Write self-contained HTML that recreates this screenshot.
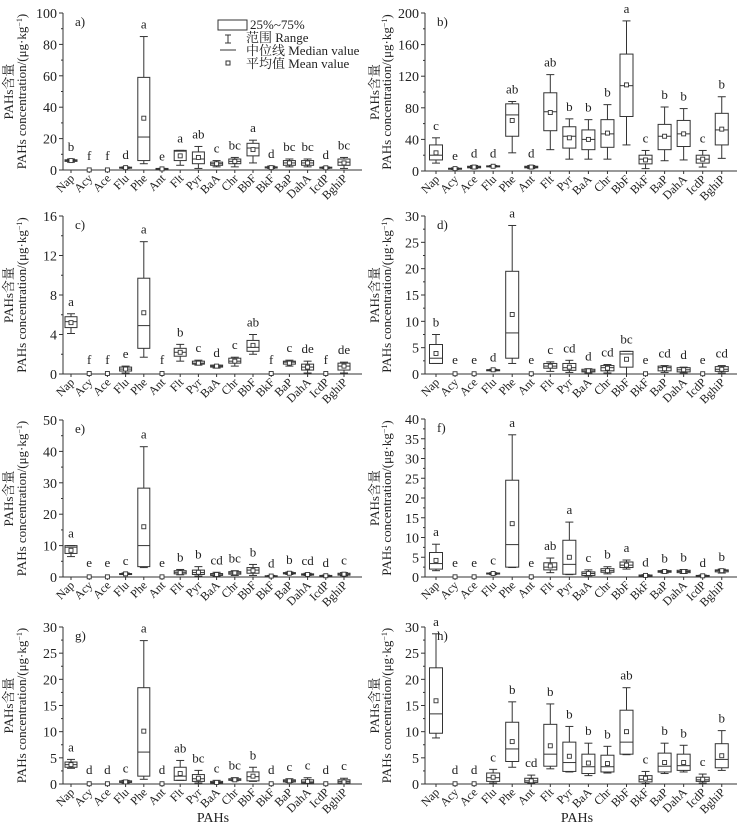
<!DOCTYPE html>
<html><head><meta charset="utf-8"><style>
body{margin:0;background:#fff}
svg{display:block}
text{font-family:"Liberation Serif","Noto Serif CJK SC",serif;fill:#222}
</style></head><body>
<svg id="s" width="748" height="833" viewBox="0 0 748 833" xmlns="http://www.w3.org/2000/svg"></svg>
<script>
const names=["Nap","Acy","Ace","Flu","Phe","Ant","Flt","Pyr","BaA","Chr","BbF","BkF","BaP","DahA","IcdP","BghiP"];
const Z=l=>[0,0,0,0,0,0.05,l];
const P=[
{lab:"a)",ax:63,right:362,x0:71,dx:18.2,top:13,bot:170,max:100,step:20,d:[
[5,5.5,6,6.5,7,6,'b'],Z('f'),Z('f'),[1,1.2,1.5,1.8,2,1.5,'d'],[4,6,21,59,85,33,'a'],[0.3,0.5,0.8,1,1,0.7,'e'],[3,6,12,12.5,12.5,9,'a'],[1,4,7,11.5,15,8,'ab'],[2,3,4,5,6,4,'c'],[2,4,5.5,7,8,5.5,'bc'],[4.5,9,14,17,19,13,'a'],[1,1.3,1.5,2,2.5,1.5,'d'],[2,3,4.5,6,7,4.5,'bc'],[2,3,4.5,6,7,4.5,'bc'],[1,1.2,1.5,1.8,2,1.4,'d'],[1,3,5,7,8,4.5,'bc']]},
{lab:"b)",ax:425,right:737,x0:436,dx:19.05,top:13,bot:171,max:200,step:40,d:[
[10,14,20,33,42,23,'c'],[2,2.5,3,3.5,4,3,'e'],[3,4,5,6,7,5,'d'],[5,5.5,6,6.5,7,6,'d'],[23,44,71,85,88,64,'ab'],[3,4,5,6,7,5,'d'],[27,51,75,99,122,74,'ab'],[15,29,44,56,66,42,'b'],[15,27,40,52,65,40,'b'],[15,30,47,65,84,48,'b'],[33,69,108,148,190,109,'a'],[3,9,15,20,26,14,'c'],[13,27,44,59,81,44,'b'],[14,31,47,64,79,47,'b'],[5,10,15,20,26,15,'c'],[16,33,52,73,94,53,'b']]},
{lab:"c)",ax:63,right:362,x0:71,dx:18.2,top:216,bot:374,max:16,step:4,d:[
[4.1,4.7,5.3,5.8,6.1,5.2,'a'],Z('f'),Z('f'),[0.1,0.3,0.5,0.7,0.8,0.5,'e'],[1.7,2.6,4.9,9.7,13.4,6.2,'a'],Z('f'),[1.3,1.8,2.2,2.6,3,2.2,'b'],[0.9,1,1.1,1.3,1.4,1.1,'c'],[0.6,0.7,0.8,0.9,0.9,0.8,'d'],[0.8,1.1,1.3,1.6,1.7,1.3,'c'],[2,2.3,2.7,3.4,4,2.9,'ab'],Z('f'),[0.8,1,1.2,1.3,1.4,1.1,'c'],[0.1,0.4,0.7,1,1.3,0.7,'de'],Z('f'),[0.1,0.4,0.8,1.1,1.2,0.8,'de']]},
{lab:"d)",ax:425,right:737,x0:436,dx:19.05,top:216,bot:374,max:30,step:5,d:[
[2,2,3,5.6,7.5,3.9,'b'],Z('e'),Z('e'),[0.6,0.7,0.8,0.8,0.9,0.8,'d'],[2,3,7.8,19.5,28.2,11.3,'a'],Z('e'),[0.5,1.1,1.5,2,2.3,1.5,'c'],[0.3,0.7,1.2,2,2.6,1.3,'cd'],[0.2,0.4,0.6,0.9,1,0.6,'d'],[0.2,0.6,1.2,1.6,1.8,1.1,'cd'],[0,1.3,3.8,4.3,4.3,2.8,'bc'],Z('e'),[0.3,0.6,1.2,1.5,1.6,1,'cd'],[0.2,0.4,0.8,1.2,1.3,0.8,'d'],Z('e'),[0.2,0.5,0.9,1.4,1.6,0.9,'cd']]},
{lab:"e)",ax:63,right:362,x0:71,dx:18.2,top:420,bot:577,max:50,step:10,d:[
[6.5,7.5,9.5,10,10,8.5,'a'],Z('e'),Z('e'),[0.8,1,1,1.1,1.3,1,'c'],[3,3.3,10,28.3,41.5,16,'a'],Z('e'),[0.7,1,1.5,2,2.4,1.4,'b'],[0.3,0.8,1.4,2.2,3.3,1.5,'b'],[0.2,0.5,0.9,1.1,1.5,0.8,'cd'],[0.5,0.9,1.3,1.7,2,1.3,'bc'],[0.5,1.2,2.2,3,4,2,'b'],[0.1,0.2,0.3,0.4,0.5,0.3,'d'],[0.8,1,1.2,1.4,1.6,1.2,'b'],[0.5,0.6,0.8,1,1.2,0.8,'cd'],[0.2,0.3,0.4,0.5,0.6,0.4,'d'],[0.4,0.6,0.9,1.2,1.4,0.9,'c']]},
{lab:"f)",ax:425,right:737,x0:436,dx:19.05,top:419,bot:577,max:40,step:5,d:[
[1.6,2,3.4,6.2,8.3,4.2,'a'],Z('e'),Z('e'),[0.6,0.8,0.9,1,1.1,0.9,'c'],[2.4,2.5,8.2,24.5,36,13.5,'a'],Z('e'),[1.1,1.8,2.5,3.6,4.8,2.8,'ab'],[0.6,0.7,3.2,9.3,13.9,5,'a'],[0.3,0.4,0.9,1.3,1.8,0.9,'c'],[0.8,1.2,1.6,2.1,2.6,1.6,'b'],[2,2.4,3,3.8,4.3,3,'a'],[0.1,0.2,0.4,0.5,0.6,0.4,'d'],[1,1.2,1.4,1.6,1.7,1.4,'b'],[0.9,1.1,1.4,1.7,1.9,1.4,'b'],[0.1,0.2,0.3,0.4,0.5,0.3,'d'],[1,1.3,1.6,1.8,2,1.6,'b']]},
{lab:"g)",ax:63,right:362,x0:71,dx:18.2,top:627,bot:784,max:30,step:5,d:[
[3,3.2,3.7,4.2,4.7,3.7,'a'],Z('d'),Z('d'),[0.2,0.3,0.4,0.6,0.7,0.4,'c'],[0.9,1.5,6.1,18.4,27.4,10.1,'a'],Z('d'),[0.7,0.7,1.5,3.2,4.5,2,'ab'],[0.2,0.5,1,1.8,2.6,1.1,'bc'],[0.1,0.2,0.3,0.5,0.7,0.3,'c'],[0.6,0.7,0.8,1,1.2,0.8,'bc'],[0.5,0.6,1.4,2.3,3.2,1.5,'b'],Z('d'),[0.3,0.4,0.6,0.8,1,0.6,'c'],[0.1,0.2,0.4,0.8,1.2,0.5,'c'],Z('d'),[0.1,0.2,0.5,0.8,1.1,0.4,'c']]},
{lab:"h)",ax:425,right:737,x0:436,dx:19.05,top:627,bot:784,max:30,step:5,d:[
[8.8,9.7,13.4,22.2,28.7,15.9,'a'],Z('d'),Z('d'),[0.2,0.5,1.2,2.1,2.8,1.3,'c'],[3.2,4.3,6.7,11.8,15.7,8.1,'b'],[0.1,0.3,0.6,1.1,1.7,0.6,'cd'],[2.9,3.4,5.7,11.4,15.3,7.3,'b'],[2.3,2.4,4.1,8,11,5.3,'b'],[1.6,2,3.3,5.7,7.8,4,'b'],[2.1,2.3,3.3,5.5,7.2,3.9,'b'],[5.6,5.7,8,14.1,18.4,10,'ab'],[0.1,0.4,0.9,1.6,2.4,1.1,'c'],[2,2.3,3.4,5.9,7.8,4.1,'b'],[2.3,2.6,3.5,5.7,7.4,4.1,'b'],[0.2,0.5,0.8,1.3,1.9,0.9,'c'],[2.6,3.1,4.7,7.7,10.2,5.4,'b']]}
];
let o="";const C="#333";
P.forEach((p,pi)=>{
 const Y=v=>p.bot-(v/p.max)*(p.bot-p.top);
 o+=`<line x1="${p.ax}" y1="${p.top}" x2="${p.ax}" y2="${p.bot}" stroke="${C}"/><line x1="${p.ax}" y1="${p.bot}" x2="${p.right}" y2="${p.bot}" stroke="${C}"/>`;
 for(let v=0;v<=p.max+1e-9;v+=p.step){const y=Y(v);o+=`<line x1="${p.ax-4}" y1="${y}" x2="${p.ax}" y2="${y}" stroke="${C}"/><text x="${p.ax-6}" y="${y+5}" font-size="14" text-anchor="end">${+v.toFixed(2)}</text>`;}
 for(let v=p.step/2;v<p.max;v+=p.step){const y=Y(v);o+=`<line x1="${p.ax-2}" y1="${y}" x2="${p.ax}" y2="${y}" stroke="${C}"/>`;}
 o+=`<text x="${p.ax+12}" y="${p.top+13}" font-size="13">${p.lab}</text>`;
 const bw=pi%2?13:12;
 p.d.forEach((d,i)=>{
  const x=p.x0+i*p.dx;
  o+=`<line x1="${x}" y1="${p.bot}" x2="${x}" y2="${p.bot+3}" stroke="${C}"/>`;
  const [mn,q1,md,q3,mx,mean,l]=d;
  if(mx>0){
   o+=`<line x1="${x}" y1="${Y(mx)}" x2="${x}" y2="${Y(q3)}" stroke="${C}"/><line x1="${x}" y1="${Y(q1)}" x2="${x}" y2="${Y(mn)}" stroke="${C}"/>`;
   o+=`<line x1="${x-4}" y1="${Y(mx)}" x2="${x+4}" y2="${Y(mx)}" stroke="${C}"/><line x1="${x-4}" y1="${Y(mn)}" x2="${x+4}" y2="${Y(mn)}" stroke="${C}"/>`;
   o+=`<rect x="${x-bw/2}" y="${Y(q3)}" width="${bw}" height="${Math.max(Y(q1)-Y(q3),1)}" fill="none" stroke="${C}"/>`;
   o+=`<line x1="${x-bw/2}" y1="${Y(md)}" x2="${x+bw/2}" y2="${Y(md)}" stroke="${C}"/>`;
  }
  o+=`<rect x="${x-2}" y="${Y(mean)-2}" width="4" height="4" fill="#fff" stroke="${C}" stroke-width="0.9"/>`;
  o+=`<text x="${x}" y="${Y(mx)-(mx>0?8:10)}" font-size="13" text-anchor="middle">${l}</text>`;
  o+=`<text transform="translate(${x+4},${p.bot+9}) rotate(-45)" font-size="12" text-anchor="end">${names[i]}</text>`;
 });
 const cy=(p.top+p.bot)/2, xl=pi%2?379:13, xc=pi%2?391:26;
 o+=`<text transform="translate(${xl},${cy}) rotate(-90)" font-size="13" text-anchor="middle">PAHs含量</text>`;
 o+=`<text transform="translate(${xc},${cy}) rotate(-90)" font-size="13" text-anchor="middle">PAHs concentration/(μg·kg<tspan font-size="8" dy="-4">−1</tspan><tspan dy="4">)</tspan></text>`;
});
o+=`<rect x="218" y="20" width="29" height="10" fill="none" stroke="${C}"/><text x="250" y="29" font-size="13">25%~75%</text>`;
o+=`<line x1="228" y1="35" x2="228" y2="43" stroke="${C}"/><line x1="225" y1="35" x2="231" y2="35" stroke="${C}"/><line x1="225" y1="43" x2="231" y2="43" stroke="${C}"/><text x="246" y="42" font-size="13">范围 Range</text>`;
o+=`<line x1="220" y1="50" x2="236" y2="50" stroke="${C}"/><text x="246" y="55" font-size="13">中位线 Median value</text>`;
o+=`<rect x="226" y="61" width="4" height="4" fill="#fff" stroke="${C}"/><text x="246" y="68" font-size="13">平均值 Mean value</text>`;
o+=`<text x="213" y="822" font-size="14" text-anchor="middle">PAHs</text><text x="577" y="822" font-size="14" text-anchor="middle">PAHs</text>`;
document.getElementById("s").innerHTML=o;
</script>
</body></html>
